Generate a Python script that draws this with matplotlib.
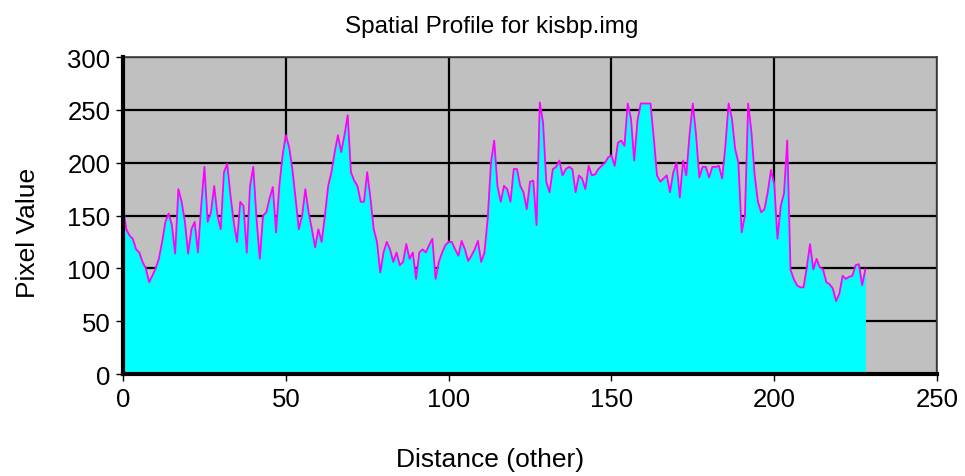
import numpy as np
import matplotlib.pyplot as plt

# pixel values sampled along the profile line
vals_0_49 = [158, 137, 131, 128, 118, 115, 106, 100, 87, 93,
             100, 109, 125, 144, 152, 141, 114, 175, 163, 144,
             114, 137, 144, 115, 159, 196, 144, 153, 178, 150,
             137, 191, 199, 169, 144, 125, 163, 159, 115, 178,
             196, 147, 109, 150, 153, 166, 177, 134, 178, 207]
vals_50_99 = [226, 215, 194, 166, 137, 150, 175, 153, 137, 120,
              137, 125, 150, 178, 191, 210, 226, 210, 226, 245,
              191, 183, 178, 163, 163, 191, 166, 137, 125, 96,
              115, 125, 118, 106, 115, 103, 106, 123, 109, 115,
              90, 115, 118, 115, 122, 128, 90, 106, 115, 122]
vals_100_150 = [125, 125, 118, 112, 126, 118, 107, 112, 118, 126,
                106, 115, 147, 200, 221, 178, 163, 178, 175, 163,
                194, 194, 178, 172, 156, 182, 183, 141, 257, 238,
                182, 172, 194, 196, 202, 188, 194, 196, 194, 172,
                188, 185, 175, 197, 188, 189, 194, 197, 200, 205,
                207]
vals_151_199 = [197, 219, 221, 216, 256, 242, 202, 240, 256,
                256, 256, 256, 224, 188, 182, 185, 188, 172, 191,
                200, 167, 202, 188, 227, 256, 226, 186, 196, 196,
                186, 196, 196, 197, 185, 216, 256, 242, 213, 200,
                134, 150, 256, 229, 188, 163, 153, 156, 172, 193]
vals_200_228 = [180, 128, 159, 171, 221, 99, 90, 84, 82, 82,
                101, 123, 99, 109, 101, 99, 87, 85, 81, 69,
                76, 93, 90, 92, 93, 103, 104, 84, 99]

pixel_value = np.array(vals_0_49 + vals_50_99 + vals_100_150 + vals_151_199 + vals_200_228)
distance = np.arange(len(pixel_value))

plt.rcParams['font.family'] = ['Liberation Sans', 'DejaVu Sans']

fig = plt.figure(figsize=(9.65, 4.77), dpi=100)
ax = fig.add_axes([0.1275, 0.2138, 0.8435, 0.6646])

ax.set_facecolor('#c0c0c0')
ax.fill_between(distance, pixel_value, 0, color='#00ffff', linewidth=0, zorder=2)
ax.plot(distance, pixel_value, color='#ff00ff', linewidth=1.3, zorder=3)

ax.set_xlim(0, 250)
ax.set_ylim(0, 300)
ax.set_xticks(np.arange(0, 251, 50))
ax.set_yticks(np.arange(0, 301, 50))
ax.grid(True, color='black', linewidth=1.6)
ax.set_axisbelow(True)

for side in ['top', 'right']:
    ax.spines[side].set_color('#404040')
    ax.spines[side].set_linewidth(1.2)
for side in ['left', 'bottom']:
    ax.spines[side].set_color('black')
    ax.spines[side].set_linewidth(3)
    ax.spines[side].set_zorder(4)

ax.tick_params(axis='both', direction='out', length=5, width=1, labelsize=18.5, pad=4)

# title and axis labels sit centred on the whole window, not on the plot area
fig.text(0.5098, 0.9434, 'Spatial Profile for kisbp.img', fontsize=17.5,
         ha='center', va='center')
ax.set_xlabel('Distance (other)', fontsize=19)
ax.xaxis.set_label_coords(0.4509, -0.2302)
ax.set_ylabel('Pixel Value', fontsize=19)
ax.yaxis.set_label_coords(-0.102, 0.448)

fig.savefig('out.png', dpi=100)
